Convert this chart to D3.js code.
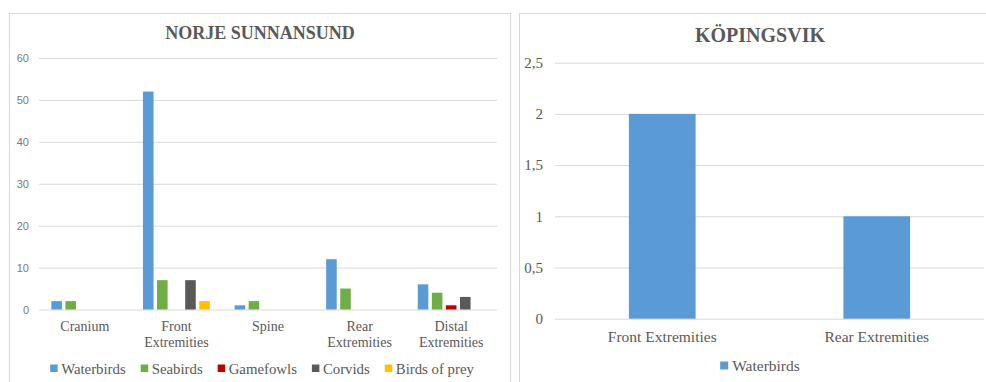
<!DOCTYPE html>
<html>
<head>
<meta charset="utf-8">
<script src="https://cdn.jsdelivr.net/npm/d3@7"></script>
<style>
  html, body { margin: 0; padding: 0; background: #fff; }
  svg { display: block; }
  .serif { font-family: "Liberation Serif", "Times New Roman", Tinos, "DejaVu Serif", serif; }
  .sans { font-family: "Liberation Sans", Arial, sans-serif; }
</style>
</head>
<body>
<svg id="chart" width="986" height="382"></svg>
<script>
// Norje Sunnansund: bone fragments per body part and bird group
const nsCategories = ["Cranium", "Front Extremities", "Spine", "Rear Extremities", "Distal Extremities"];
const nsSeries = ["Waterbirds", "Seabirds", "Gamefowls", "Corvids", "Birds of prey"];
const nsWaterbirds = [2, 52, 1, 12, 6];
const nsSeabirds = [2, 7, 2, 5, 4];
const nsGamefowls = [0, 0, 0, 0, 1];
const nsCorvids = [0, 7, 0, 0, 3];
const nsBirdsOfPrey = [0, 2, 0, 0, 0];
const nsTicks = [0, 10, 20, 30, 40, 50, 60];

// Köpingsvik: waterbird fragments
const kvCategories = ["Front Extremities", "Rear Extremities"];
const kvSeries = ["Waterbirds"];
const kvWaterbirds = [2, 1];
const kvTicks = [0, 0.5, 1, 1.5, 2, 2.5];

const colors = {
  "Waterbirds": "#5b9bd5",
  "Seabirds": "#70ad47",
  "Gamefowls": "#c00000",
  "Corvids": "#595959",
  "Birds of prey": "#ffc000"
};
const nsValues = {
  "Waterbirds": nsWaterbirds,
  "Seabirds": nsSeabirds,
  "Gamefowls": nsGamefowls,
  "Corvids": nsCorvids,
  "Birds of prey": nsBirdsOfPrey
};

const TEXT = "#595959";
const GRID = "#d9d9d9";

const svg = d3.select("#chart");

// ---------- Left panel ----------
{
  const g = svg.append("g");
  g.append("rect").attr("x", 9.5).attr("y", 13.5).attr("width", 501).attr("height", 420)
    .attr("fill", "#fff").attr("stroke", GRID);

  g.append("text").attr("class", "serif").attr("x", 260).attr("y", 38.5).attr("text-anchor", "middle")
    .attr("font-weight", "bold").attr("font-size", 18)
    .attr("fill", TEXT).text("NORJE SUNNANSUND");

  const left = 39, right = 497;
  const y = d3.scaleLinear().domain([0, 60]).range([309.5, 58]);
  const x0 = d3.scaleBand().domain(nsCategories).range([left, right]).paddingInner(0).paddingOuter(0);
  const groupW = x0.bandwidth() * 0.73;
  const x1 = d3.scaleBand().domain(nsSeries).range([0, groupW]).paddingInner(0.25).paddingOuter(0);

  const yAxis = d3.axisLeft(y).tickValues(nsTicks).tickSize(-(right - left)).tickPadding(10);
  const ya = g.append("g").attr("transform", `translate(${left},0)`).call(yAxis);
  ya.attr("font-family", null);
  ya.select(".domain").remove();
  ya.selectAll(".tick line").attr("stroke", GRID);
  ya.selectAll(".tick text").attr("class", "sans").attr("font-size", 11).attr("fill", "#7a7a7a");

  const groups = g.append("g").selectAll("g").data(nsCategories).join("g")
    .attr("transform", d => `translate(${x0(d) + (x0.bandwidth() - groupW) / 2},0)`);
  groups.selectAll("rect")
    .data((d, i) => nsSeries.map(s => ({ s, v: nsValues[s][i] })))
    .join("rect")
    .attr("x", d => x1(d.s))
    .attr("width", x1.bandwidth())
    .attr("y", d => y(d.v))
    .attr("height", d => y(0) - y(d.v))
    .attr("fill", d => colors[d.s]);

  // category labels, wrapped onto two lines where needed
  const labels = g.append("g").selectAll("text").data(nsCategories).join("text")
    .attr("class", "serif")
    .attr("x", d => x0(d) + x0.bandwidth() / 2)
    .attr("y", 330.5)
    .attr("text-anchor", "middle")
    .attr("font-size", 14).attr("fill", TEXT);
  labels.each(function (d) {
    const words = d.split(" ");
    const t = d3.select(this);
    words.forEach((w, i) => {
      t.append("tspan").attr("x", x0(d) + x0.bandwidth() / 2).attr("dy", i === 0 ? 0 : 16).text(w);
    });
  });

  // legend
  const lg = g.append("g");
  const items = lg.selectAll("g").data(nsSeries).join("g");
  items.append("rect").attr("width", 7.5).attr("height", 7.5).attr("y", 364.5)
    .attr("fill", d => colors[d]);
  items.append("text").attr("class", "serif").attr("x", 11).attr("y", 373.5)
    .attr("font-size", 14.8).attr("fill", TEXT).text(d => d);
  let cx = 0;
  const offs = [];
  items.each(function () {
    offs.push(cx);
    cx += 11 + this.querySelector("text").getComputedTextLength() + 15;
  });
  const total = cx - 15;
  const start = 262 - total / 2;
  items.attr("transform", (d, i) => `translate(${start + offs[i]},0)`);
}

// ---------- Right panel ----------
{
  const g = svg.append("g");
  g.append("rect").attr("x", 519.5).attr("y", 13.5).attr("width", 500).attr("height", 420)
    .attr("fill", "#fff").attr("stroke", GRID);

  g.append("text").attr("class", "serif").attr("x", 760).attr("y", 42).attr("text-anchor", "middle")
    .attr("font-weight", "bold").attr("font-size", 20)
    .attr("fill", TEXT).text("KÖPINGSVIK");

  const left = 555, right = 984;
  const y = d3.scaleLinear().domain([0, 2.5]).range([318.7, 62.7]);
  const x = d3.scaleBand().domain(kvCategories).range([left, right]).padding(0);
  const barW = x.bandwidth() * 0.311;

  const locale = d3.formatLocale({ decimal: ",", thousands: " ", grouping: [3], currency: ["", " kr"] });
  const fmt = locale.format("~g");

  const yAxis = d3.axisLeft(y).tickValues(kvTicks).tickFormat(fmt).tickSize(-(right - left)).tickPadding(12);
  const ya = g.append("g").attr("transform", `translate(${left},0)`).call(yAxis);
  ya.attr("font-family", null);
  ya.select(".domain").remove();
  ya.selectAll(".tick line").attr("stroke", GRID);
  ya.selectAll(".tick text").attr("class", "serif").attr("font-size", 15).attr("fill", TEXT);

  g.append("g").selectAll("rect").data(kvCategories).join("rect")
    .attr("x", d => x(d) + (x.bandwidth() - barW) / 2)
    .attr("width", barW)
    .attr("y", (d, i) => y(kvWaterbirds[i]))
    .attr("height", (d, i) => y(0) - y(kvWaterbirds[i]))
    .attr("fill", colors["Waterbirds"]);

  g.append("g").selectAll("text").data(kvCategories).join("text")
    .attr("class", "serif")
    .attr("x", d => x(d) + x.bandwidth() / 2)
    .attr("y", 342)
    .attr("text-anchor", "middle")
    .attr("font-size", 15.5).attr("fill", TEXT)
    .text(d => d);

  const lg = g.append("g");
  const items = lg.selectAll("g").data(kvSeries).join("g");
  items.append("rect").attr("width", 8).attr("height", 8).attr("y", 361.5)
    .attr("fill", d => colors[d]);
  items.append("text").attr("class", "serif").attr("x", 12).attr("y", 371)
    .attr("font-size", 15.5).attr("fill", TEXT).text(d => d);
  const w = 12 + items.select("text").node().getComputedTextLength();
  items.attr("transform", `translate(${760 - w / 2},0)`);
}
</script>
</body>
</html>
